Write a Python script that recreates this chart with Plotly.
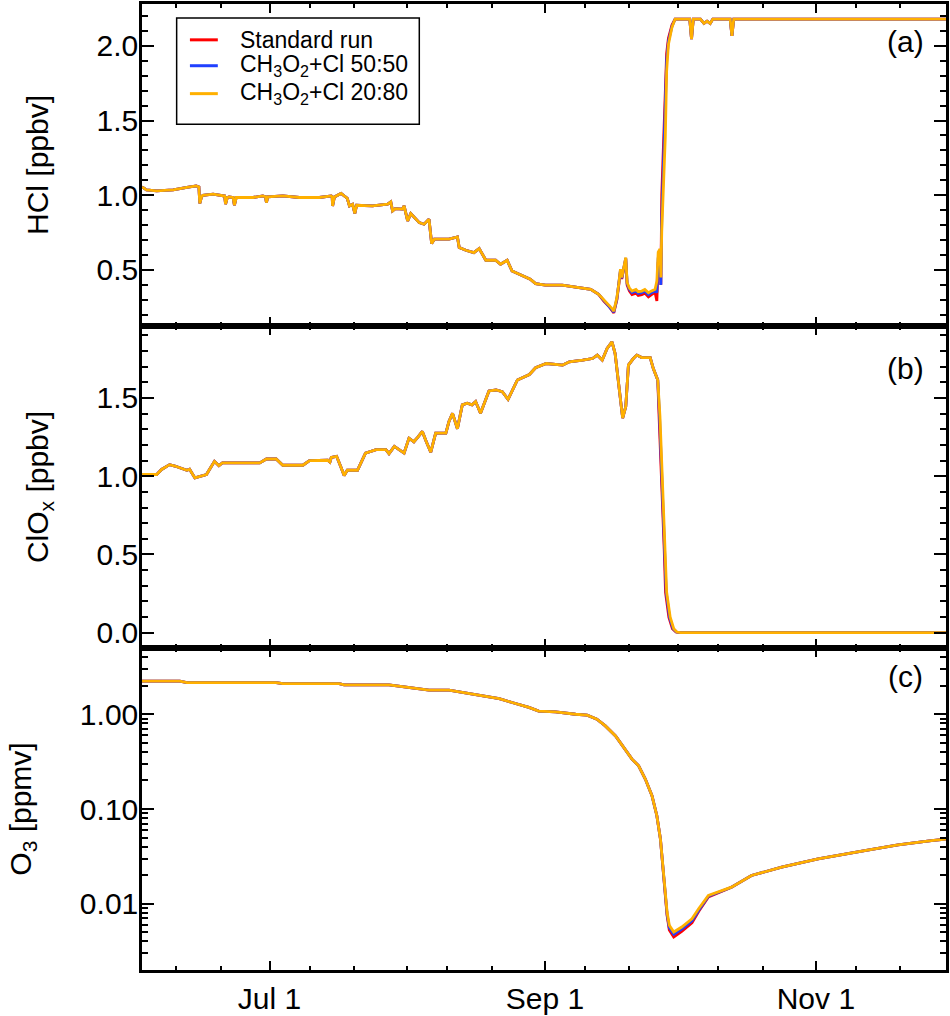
import pandas as pd
import plotly.graph_objects as go
from plotly.subplots import make_subplots

# time axis: days relative to Jul 1
BASE = pd.Timestamp("2003-07-01")

# ---- HCl [ppbv] ----
hcl_days_early = [-28.7, -27.7, -25.4, -21.7, -18.6, -16.5, -15.9, -15.7, -15.3, -15.0,
                  -12.7, -10.5, -10.1, -9.9, -9.5, -9.1, -8.2, -7.9, -7.5, -3.7,
                  -1.5, -0.9, -0.7, -0.4, 3.0, 6.7, 11.2, 13.9, 14.1, 14.2,
                  14.6, 16.1, 16.8, 17.5, 18.0, 18.7, 19.2, 19.6, 23.2, 26.6,
                  27.3, 27.7, 28.3, 29.9, 30.3, 31.1, 31.8, 33.7, 34.8, 35.9,
                  36.5, 37.1, 40.4, 42.3, 42.7, 44.2, 46.0, 47.2, 48.7, 50.9,
                  52.0, 53.5, 54.6, 56.9, 58.7, 59.9, 62.1, 65.9, 70.4, 72.3, 74.1]
hcl_early = [1.056, 1.036, 1.029, 1.036, 1.052, 1.063, 1.056, 0.945, 0.99, 1.0,
             1.007, 1.0, 0.995, 0.94, 0.985, 0.989, 0.985, 0.933, 0.985, 0.985,
             0.996, 0.99, 0.951, 0.989, 0.996, 0.985, 0.985, 0.996, 0.99, 0.929,
             0.989, 1.012, 0.996, 0.98, 0.929, 0.94, 0.878, 0.933, 0.929, 0.94,
             0.955, 0.895, 0.91, 0.907, 0.929, 0.828, 0.878, 0.817, 0.806, 0.840,
             0.677, 0.706, 0.706, 0.721, 0.650, 0.632, 0.616, 0.643, 0.565, 0.565,
             0.538, 0.565, 0.493, 0.465, 0.438, 0.409, 0.398, 0.398, 0.382, 0.371, 0.337]

hcl_days_mid = [75.3, 76.4, 77.0, 77.5, 78.2, 78.6, 79.0, 79.3, 79.7, 80.2,
                80.5, 81.0, 81.6, 82.5, 83.0, 83.8, 84.5, 85.3, 86.0, 86.8,
                87.2, 87.5, 87.9, 88.1, 88.3, 88.7, 89.1, 89.4, 89.8, 90.6, 91.3]
hcl_std_mid = [0.290, 0.258, 0.232, 0.212, 0.300, 0.39, 0.49, 0.44, 0.51, 0.575,
               0.40, 0.36, 0.335, 0.345, 0.33, 0.335, 0.345, 0.32, 0.335, 0.35,
               0.292, 0.55, 0.60, 0.40, 1.00, 1.35, 1.70, 1.95, 2.05, 2.14, 2.179]
hcl_5050_mid = [0.295, 0.264, 0.238, 0.218, 0.308, 0.395, 0.50, 0.445, 0.515, 0.58,
                0.41, 0.37, 0.348, 0.358, 0.343, 0.348, 0.358, 0.335, 0.348, 0.36,
                0.35, 0.58, 0.62, 0.40, 0.85, 1.22, 1.55, 1.90, 2.03, 2.13, 2.179]
hcl_2080_mid = [0.300, 0.270, 0.245, 0.225, 0.315, 0.40, 0.505, 0.449, 0.52, 0.583,
                0.416, 0.38, 0.359, 0.37, 0.355, 0.359, 0.37, 0.348, 0.36, 0.371,
                0.426, 0.62, 0.64, 0.45, 0.76, 1.12, 1.39, 1.83, 2.01, 2.124, 2.179]

hcl_days_late = [92.5, 94.6, 95.0, 95.4, 97.0, 97.8, 98.5, 99.2, 99.8, 103.7,
                 104.1, 104.5, 152.5]
hcl_late = [2.179, 2.179, 2.045, 2.179, 2.179, 2.15, 2.165, 2.15, 2.179, 2.179,
            2.067, 2.179, 2.179]

# ---- ClOx [ppbv] ----
clox_days_early = [-28.7, -25.4, -24.3, -22.5, -21.3, -20.2, -18.6, -18.0, -16.8, -14.2,
                   -12.4, -11.4, -10.6, -2.2, -0.7, 1.5, 3.0, 7.5, 9.0, 13.1,
                   13.6, 13.9, 15.1, 16.0, 16.8, 17.5, 19.8, 21.6, 24.0, 26.2,
                   26.9, 28.1, 29.0, 30.3, 31.4, 32.5, 33.4, 34.4, 35.3, 36.3,
                   37.4, 39.7, 40.4, 41.2, 42.3, 43.4, 44.5, 45.6, 46.4, 47.5,
                   49.4, 51.0, 52.4, 53.7, 55.8, 57.7, 58.5, 59.9, 62.3, 66.0,
                   67.5, 70.5, 72.7, 73.8, 74.9, 76.0, 77.1, 77.8, 78.7, 79.5,
                   80.2, 80.8, 81.9, 82.7, 83.8, 85.7, 86.4, 87.4]
clox_early = [1.011, 1.011, 1.043, 1.074, 1.065, 1.053, 1.038, 1.045, 0.989, 1.011,
              1.095, 1.068, 1.085, 1.085, 1.11, 1.11, 1.07, 1.07, 1.10, 1.102,
              1.09, 1.12, 1.127, 1.064, 1.004, 1.038, 1.038, 1.148, 1.17, 1.17,
              1.144, 1.191, 1.174, 1.148, 1.243, 1.22, 1.25, 1.286, 1.22, 1.153,
              1.275, 1.275, 1.35, 1.402, 1.303, 1.456, 1.466, 1.456, 1.477, 1.402,
              1.545, 1.551, 1.54, 1.491, 1.615, 1.636, 1.65, 1.693, 1.72, 1.71,
              1.731, 1.742, 1.752, 1.774, 1.742, 1.816, 1.858, 1.784, 1.551, 1.371,
              1.445, 1.71, 1.752, 1.774, 1.758, 1.758, 1.688, 1.615]

clox_std_days_late = [87.7, 88.05, 88.45, 88.85, 89.15, 89.9, 90.7, 91.5, 92.3, 152.5]
clox_5050_days_late = [87.8, 88.2, 88.6, 89.0, 89.3, 90.05, 90.85, 91.6, 92.4, 152.5]
clox_2080_days_late = [87.9, 88.3, 88.7, 89.1, 89.4, 90.2, 91.0, 91.7, 92.5, 152.5]
clox_late = [1.381, 1.064, 0.83, 0.534, 0.258, 0.099, 0.025, 0.004, 0.0, 0.0]

# ---- O3 [ppmv] ----
o3_days_early = [-28.7, -20.2, -18.6, 1.5, 3.0, 15.7, 16.8, 26.9, 29.9, 35.9,
                 40.4, 45.0, 51.7, 54.6, 58.4, 60.6, 64.4, 68.9, 71.5, 73.7,
                 75.6, 77.9, 80.1, 81.6, 83.1, 84.6, 86.1, 87.2, 88.0, 88.7]
o3_early = [2.24, 2.24, 2.16, 2.16, 2.10, 2.10, 2.04, 2.04, 1.96, 1.80,
            1.80, 1.65, 1.46, 1.33, 1.18, 1.08, 1.06, 1.0, 0.977, 0.886,
            0.753, 0.591, 0.428, 0.336, 0.286, 0.207, 0.138, 0.085, 0.0483, 0.0216]

o3_days_mid = [89.5, 90.0, 91.0, 92.8, 95.1, 96.6, 98.8]
o3_std_mid = [0.0075, 0.0053, 0.00446, 0.0051, 0.0063, 0.0083, 0.0118]
o3_5050_mid = [0.0078, 0.0056, 0.00475, 0.0054, 0.0066, 0.0085, 0.0120]
o3_2080_mid = [0.00817, 0.00592, 0.00503, 0.00568, 0.00695, 0.00886, 0.01225]

o3_days_late = [104.0, 108.5, 115.3, 123.5, 134.0, 141.5, 149.0, 152.5]
o3_late = [0.01496, 0.0199, 0.0243, 0.0298, 0.0364, 0.0418, 0.0464, 0.0483]

# ---- axis ticks ----
major_dates = ["2003-07-01", "2003-09-01", "2003-11-01"]
major_labels = ["Jul 1", "Sep 1", "Nov 1"]
minor_dates = ["2003-06-10", "2003-06-20", "2003-07-10", "2003-07-20", "2003-08-01",
               "2003-08-10", "2003-08-20", "2003-09-10", "2003-09-20", "2003-10-01",
               "2003-10-10", "2003-10-20", "2003-11-10", "2003-11-20"]
o3_major = [0.01, 0.1, 1.0]
o3_major_labels = ["0.01", "0.10", "1.00"]
o3_minor = [0.003, 0.004, 0.005, 0.006, 0.007, 0.008, 0.009,
            0.02, 0.03, 0.04, 0.05, 0.06, 0.07, 0.08, 0.09,
            0.2, 0.3, 0.4, 0.5, 0.6, 0.7, 0.8, 0.9, 2, 3, 4]

run_names = ["Standard run", "CH<sub>3</sub>O<sub>2</sub>+Cl 50:50",
             "CH<sub>3</sub>O<sub>2</sub>+Cl 20:80"]
run_colors = ["#FF0000", "#2040FF", "#FFB000"]


def to_dates(days):
    return BASE + pd.to_timedelta(days, unit="D")


hcl_runs = [hcl_std_mid, hcl_5050_mid, hcl_2080_mid]
clox_days_runs = [clox_std_days_late, clox_5050_days_late, clox_2080_days_late]
o3_runs = [o3_std_mid, o3_5050_mid, o3_2080_mid]

fig = make_subplots(rows=3, cols=1, shared_xaxes=True, vertical_spacing=0)

for i in range(3):
    line = dict(color=run_colors[i], width=2.8)
    fig.add_trace(go.Scatter(
        x=to_dates(hcl_days_early + hcl_days_mid + hcl_days_late),
        y=hcl_early + hcl_runs[i] + hcl_late,
        mode="lines", line=line, name=run_names[i], showlegend=False), row=1, col=1)
    fig.add_trace(go.Scatter(
        x=to_dates(clox_days_early + clox_days_runs[i]),
        y=clox_early + clox_late,
        mode="lines", line=line, name=run_names[i], showlegend=False), row=2, col=1)
    fig.add_trace(go.Scatter(
        x=to_dates(o3_days_early + o3_days_mid + o3_days_late),
        y=o3_early + o3_runs[i] + o3_late,
        mode="lines", line=line, name=run_names[i], showlegend=False), row=3, col=1)

FONT = "Liberation Sans, Arial, Helvetica, sans-serif"
axis_style = dict(showline=True, linecolor="black", linewidth=2.5, mirror="ticks",
                  ticks="inside", tickcolor="black", tickwidth=2, showgrid=False,
                  zeroline=False, tickfont=dict(size=30, color="black"))

xrange = ["2003-06-02 07:00", "2003-11-30 07:00"]
for r in range(1, 4):
    fig.update_xaxes(axis_style, row=r, col=1)
    fig.update_xaxes(range=xrange, tickmode="array", tickvals=major_dates,
                     ticktext=major_labels, ticklen=9,
                     minor=dict(tickmode="array", tickvals=minor_dates, ticklen=4,
                                tickwidth=2, tickcolor="black", ticks="inside"),
                     showticklabels=(r == 3), row=r, col=1)
    fig.update_yaxes(axis_style, ticklabelstandoff=-5, row=r, col=1)

fig.update_yaxes(range=[0.125, 2.28], dtick=0.5, tick0=0, tickformat=".1f", ticklen=12,
                 minor=dict(dtick=0.1, ticklen=6, tickwidth=2, tickcolor="black",
                            ticks="inside"),
                 title=dict(text="HCl [ppbv]", font=dict(size=30), standoff=40),
                 row=1, col=1)
fig.update_yaxes(range=[-0.098, 1.96], dtick=0.5, tick0=0, tickformat=".1f", ticklen=12,
                 minor=dict(dtick=0.1, ticklen=6, tickwidth=2, tickcolor="black",
                            ticks="inside"),
                 title=dict(text="ClO<sub>x</sub> [ppbv]", font=dict(size=30), standoff=40),
                 row=2, col=1)
fig.update_yaxes(type="log", range=[-2.699, 0.699], tickmode="array", tickvals=o3_major,
                 ticktext=o3_major_labels, ticklen=12,
                 minor=dict(tickmode="array", tickvals=o3_minor, ticklen=6, tickwidth=2,
                            tickcolor="black", ticks="inside"),
                 title=dict(text="O<sub>3</sub> [ppmv]", font=dict(size=30), standoff=40),
                 row=3, col=1)

panel_labels = ["(a)", "(b)", "(c)"]
label_y = [0.882, 0.868, 0.91]
for i, lab in enumerate(panel_labels):
    ax = "" if i == 0 else str(i + 1)
    fig.add_annotation(text=lab, xref=f"x{ax} domain", yref=f"y{ax} domain",
                       x=0.95, y=label_y[i], xanchor="center", yanchor="middle",
                       showarrow=False, font=dict(size=30, color="black"))

# legend box drawn by hand (paper coordinates of the top panel corner)
fig.add_shape(type="rect", xref="paper", yref="paper", x0=0.0431, x1=0.3449,
              y0=0.8756, y1=0.9856, line=dict(color="black", width=1.5),
              fillcolor="white", layer="above")
legend_rows_y = [0.9629, 0.9361, 0.9072]
for i in range(3):
    fig.add_shape(type="line", xref="paper", yref="paper", x0=0.0596, x1=0.0943,
                  y0=legend_rows_y[i], y1=legend_rows_y[i],
                  line=dict(color=run_colors[i], width=3), layer="above")
    fig.add_annotation(text=run_names[i], xref="paper", yref="paper", x=0.1191,
                       y=legend_rows_y[i], xanchor="left", yanchor="middle",
                       showarrow=False, font=dict(size=23, color="black"))

fig.update_layout(
    width=950, height=1016,
    margin=dict(l=142, r=2, t=1, b=45),
    paper_bgcolor="white", plot_bgcolor="white",
    font=dict(family=FONT, color="black"),
    showlegend=False,
)

fig.write_html("out.html", config={"displayModeBar": False},
               post_script="document.body.style.margin='0';document.body.style.overflow='hidden';")
